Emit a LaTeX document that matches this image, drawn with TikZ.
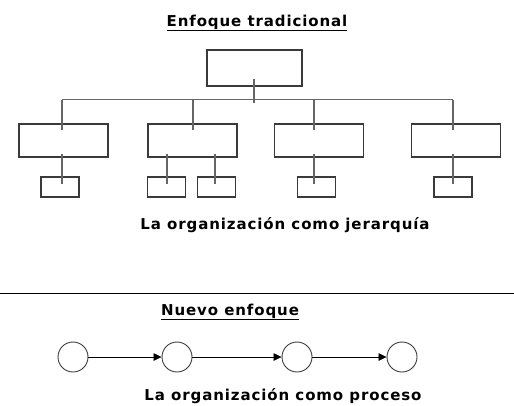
\documentclass[tikz,border=0pt]{standalone}
\usepackage{fontspec}
\setmainfont{DejaVu Sans}[LetterSpace=6]
\usetikzlibrary{arrows.meta}
\definecolor{boxc}{HTML}{3A3A3A}
\definecolor{linec}{HTML}{666666}
\tikzset{
  bigbox/.style={draw=boxc, line width=1.4pt, minimum width=89pt, minimum height=33pt, inner sep=0pt},
  topbox/.style={draw=boxc, line width=1.4pt, minimum width=95pt, minimum height=36pt, inner sep=0pt},
  smallbox/.style={draw=boxc, line width=1.4pt, minimum width=38pt, minimum height=20pt, inner sep=0pt},
  conn/.style={draw=linec, line width=1.6pt},
  proc/.style={circle, draw=boxc, line width=0.9pt, minimum size=30pt, inner sep=0pt},
  flow/.style={draw=black, line width=0.7pt, -{Triangle[length=8pt,width=7.5pt]}},
  lbl/.style={font=\bfseries\fontsize{15}{17}\selectfont, text=black, inner sep=0pt, anchor=base},
  sep/.style={draw=black, line width=1pt}
}
\begin{document}
\begin{tikzpicture}[x=1pt,y=-1pt]
\useasboundingbox (0,0) rectangle (514,405);
% title
\node[lbl] (t1) at (257,26) {\underline{Enfoque tradicional}};
% boxes
\node[topbox] (top) at (254.5,68) {};
\node[bigbox] (b1) at (63.5,140.5) {};
\node[bigbox] (b2) at (192.5,140.5) {};
\node[bigbox] (b3) at (319,140.5) {};
\node[bigbox] (b4) at (456,140.5) {};
\node[smallbox] (s1) at (60,187) {};
\node[smallbox] (s2) at (166.5,187) {};
\node[smallbox] (s3) at (216.5,187) {};
\node[smallbox] (s4) at (316.5,187) {};
\node[smallbox] (s5) at (453,187) {};
% connectors
\coordinate (busL) at (62,99.5);
\coordinate (busR) at (453,99.5);
\coordinate (topin) at (254,79);
\coordinate (topbus) at (254,103);
\draw[conn] (topin) -- (topbus);
\draw[conn] (busL) -- (busR);
\coordinate (c1a) at (62,99.5); \coordinate (c1b) at (62,130);
\coordinate (c2a) at (193,99.5); \coordinate (c2b) at (193,130);
\coordinate (c3a) at (314,99.5); \coordinate (c3b) at (314,130);
\coordinate (c4a) at (453,99.5); \coordinate (c4b) at (453,130);
\draw[conn] (c1a) -- (c1b);
\draw[conn] (c2a) -- (c2b);
\draw[conn] (c3a) -- (c3b);
\draw[conn] (c4a) -- (c4b);
\coordinate (d1a) at (62,154); \coordinate (d1b) at (62,184);
\coordinate (d2a) at (167,154); \coordinate (d2b) at (167,184);
\coordinate (d3a) at (215,154); \coordinate (d3b) at (215,184);
\coordinate (d4a) at (314,154); \coordinate (d4b) at (314,184);
\coordinate (d5a) at (453,154); \coordinate (d5b) at (453,184);
\draw[conn] (d1a) -- (d1b);
\draw[conn] (d2a) -- (d2b);
\draw[conn] (d3a) -- (d3b);
\draw[conn] (d4a) -- (d4b);
\draw[conn] (d5a) -- (d5b);
\node[lbl] (t2) at (285,229) {La organización como jerarquía};
% separator
\coordinate (sepL) at (0,293);
\coordinate (sepR) at (514,293);
\draw[sep] (sepL) -- (sepR);
\node[lbl] (t3) at (230,315) {\underline{Nuevo enfoque}};
% process
\node[proc] (p1) at (73,357) {};
\node[proc] (p2) at (177,357) {};
\node[proc] (p3) at (297,357) {};
\node[proc] (p4) at (402,357) {};
\draw[flow] (p1) -- (p2);
\draw[flow] (p2) -- (p3);
\draw[flow] (p3) -- (p4);
\node[lbl] (t4) at (283,400.5) {La organización como proceso};
\end{tikzpicture}
\end{document}
